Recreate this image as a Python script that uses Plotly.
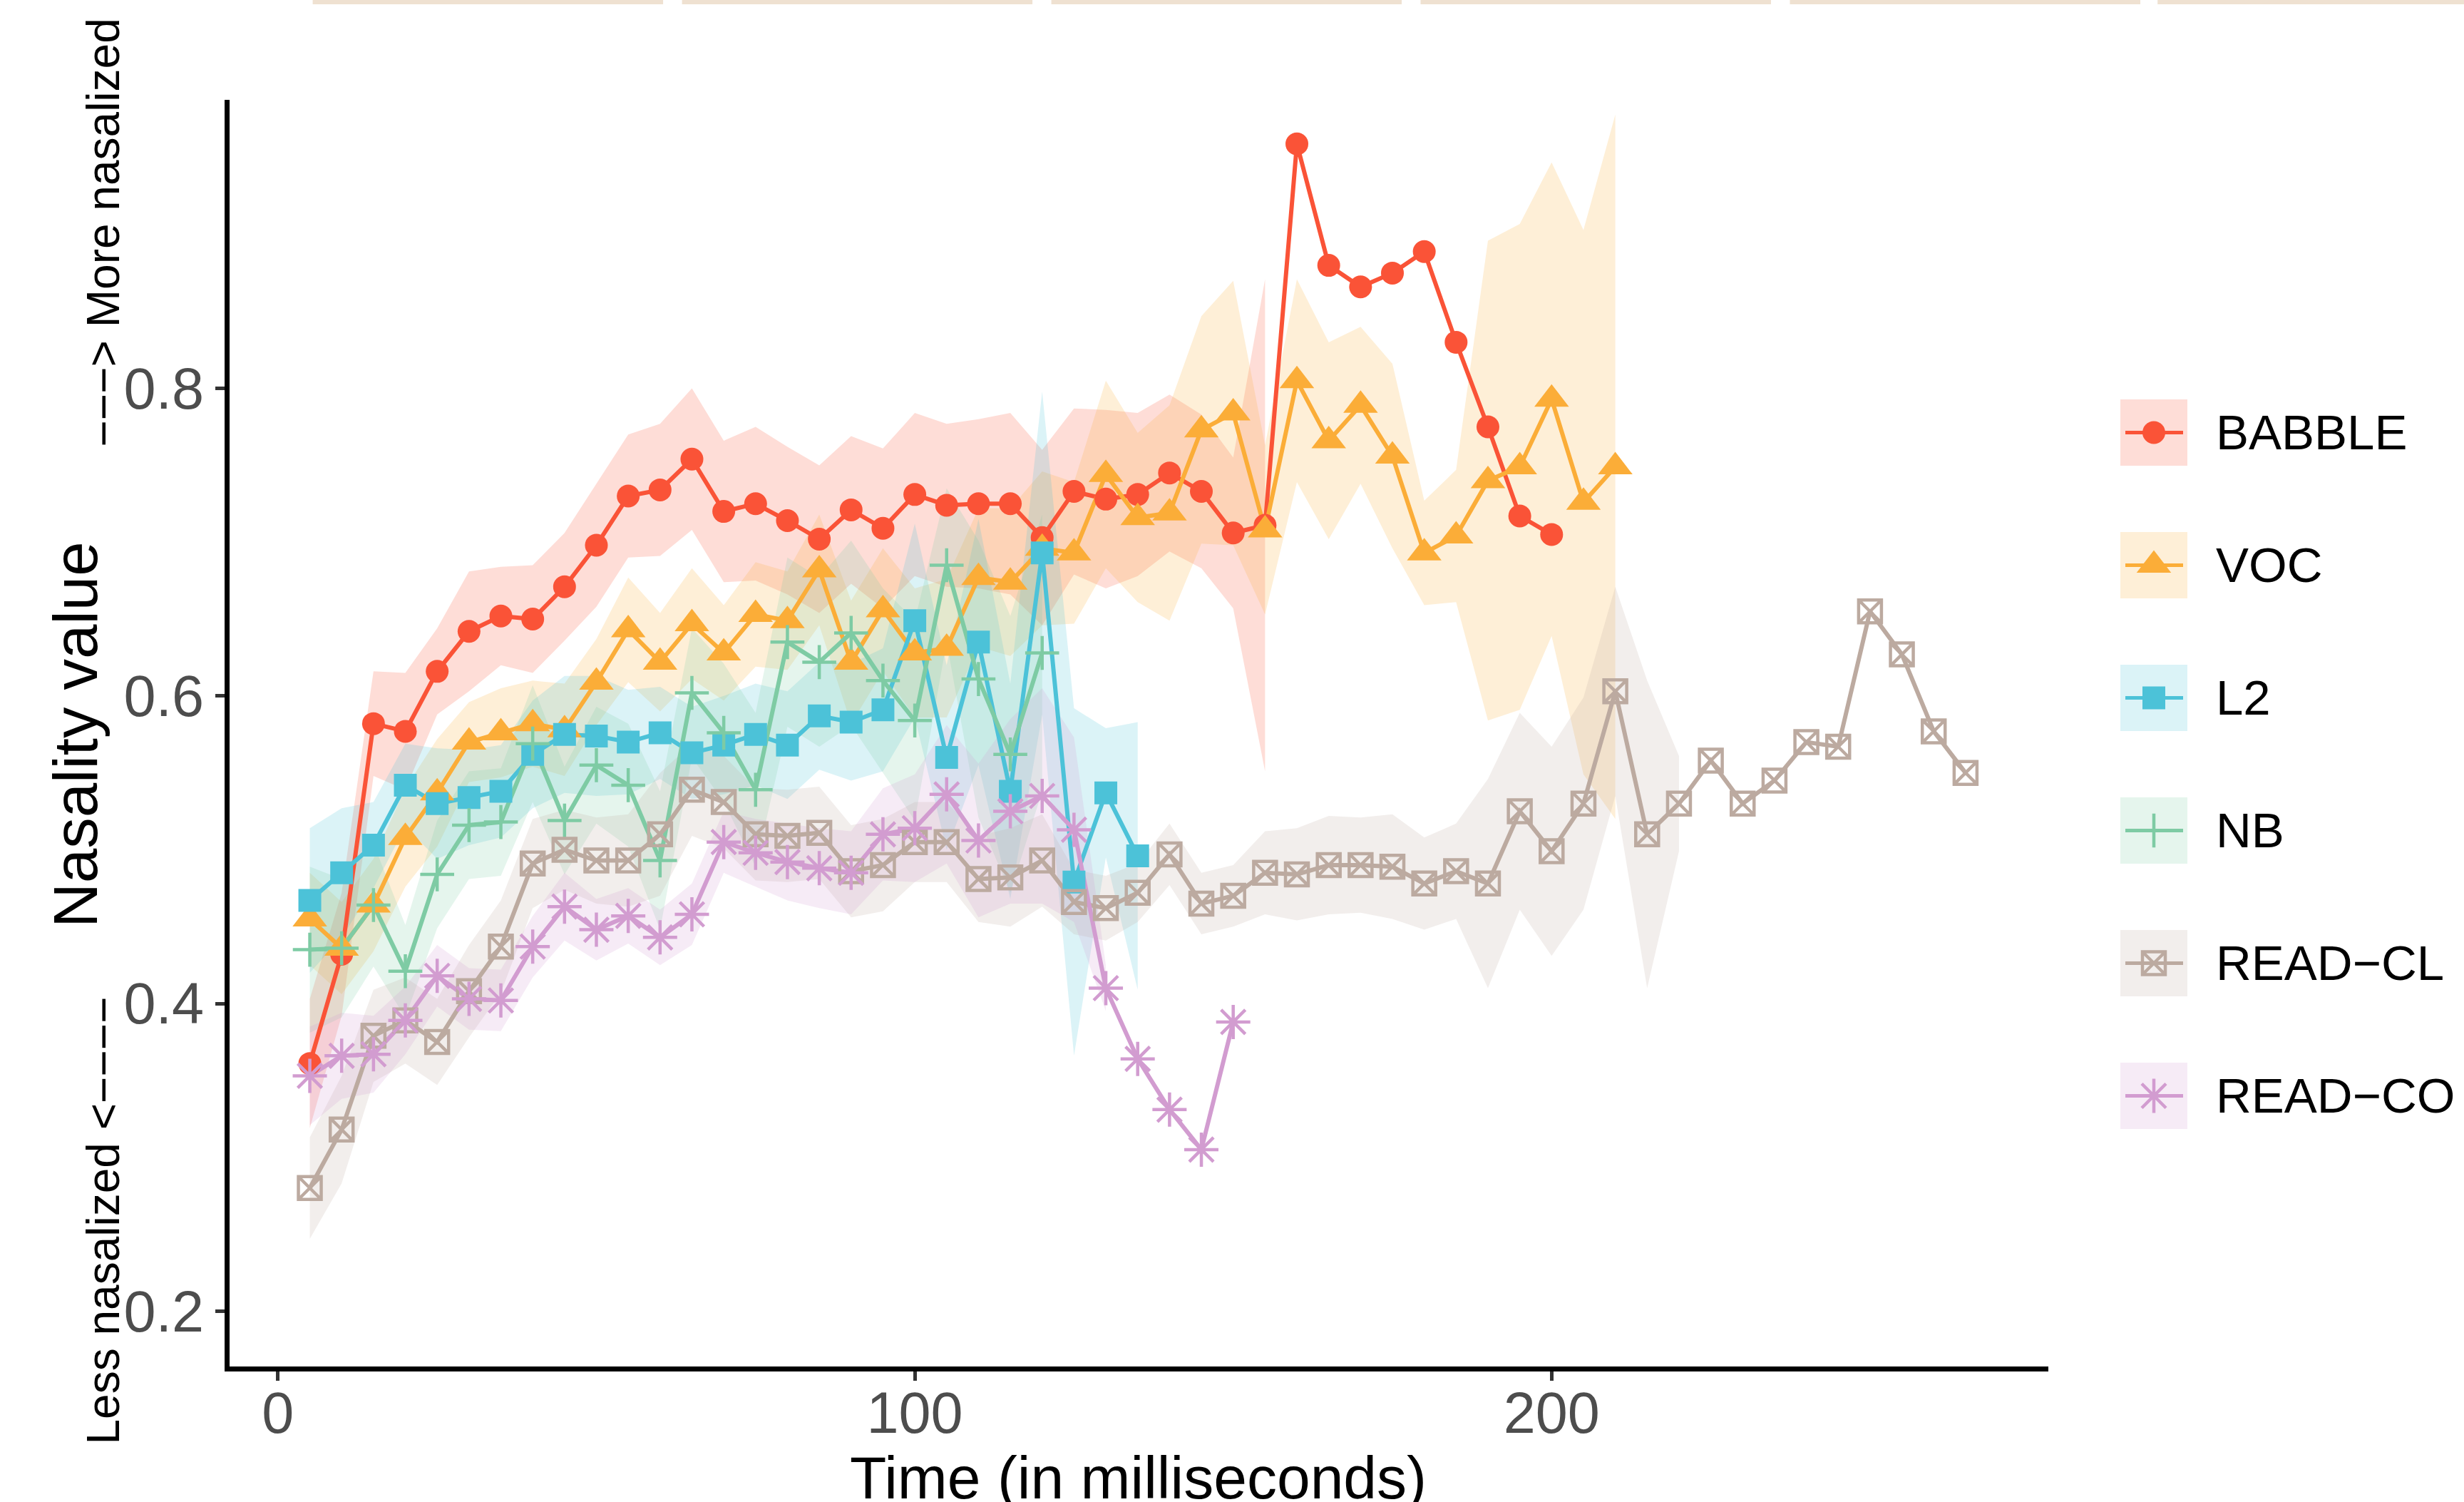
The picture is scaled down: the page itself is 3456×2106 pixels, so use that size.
import plotly.graph_objects as go

# ---------------- data ----------------
time_ms = [5, 10, 15, 20, 25, 30, 35, 40, 45, 50, 55, 60, 65, 70, 75, 80, 85, 90, 95, 100,
           105, 110, 115, 120, 125, 130, 135, 140, 145, 150, 155, 160, 165, 170, 175, 180,
           185, 190, 195, 200, 205, 210, 215, 220, 225, 230, 235, 240, 245, 250, 255, 260, 265]

series_names = ["BABBLE", "VOC", "L2", "NB", "READ-CL", "READ-CO"]
series_colors = ["#FA5337", "#FBAD38", "#4CC2D8", "#7ECBA4", "#BCAAA0", "#D29CD0"]

babble_mean = [0.361, 0.432, 0.582, 0.577, 0.616, 0.642, 0.652, 0.650, 0.671, 0.698,
               0.730, 0.734, 0.754, 0.720, 0.725, 0.714, 0.702, 0.721, 0.709, 0.731,
               0.724, 0.725, 0.725, 0.703, 0.733, 0.728, 0.731, 0.745, 0.733, 0.706,
               0.711, 0.959, 0.880, 0.866, 0.875, 0.889, 0.830, 0.775, 0.717, 0.705]
babble_se = [0.042, 0.040, 0.034, 0.038, 0.028, 0.039, 0.032, 0.035, 0.035, 0.040,
             0.040, 0.043, 0.046, 0.046, 0.050, 0.048, 0.048, 0.048, 0.052, 0.053,
             0.053, 0.055, 0.059, 0.057, 0.054, 0.058, 0.053, 0.051, 0.050, 0.049,
             0.160, None, None, None, None, None, None, None, None, None]

voc_mean = [0.455, 0.436, 0.464, 0.508, 0.537, 0.570, 0.576, 0.582, 0.578, 0.609,
            0.643, 0.622, 0.647, 0.628, 0.653, 0.649, 0.682, 0.622, 0.656, 0.628,
            0.631, 0.677, 0.674, 0.696, 0.693, 0.744, 0.716, 0.719, 0.773, 0.784,
            0.708, 0.805, 0.766, 0.789, 0.756, 0.693, 0.704, 0.740, 0.749, 0.793,
            0.726, 0.749]
voc_se = [0.030, 0.030, 0.030, 0.032, 0.035, 0.026, 0.029, 0.028, 0.030, 0.028,
          0.034, 0.032, 0.036, 0.031, 0.034, 0.032, 0.036, 0.040, 0.040, 0.042,
          0.045, 0.045, 0.048, 0.050, 0.046, 0.061, 0.055, 0.070, 0.074, 0.086,
          0.055, 0.066, 0.064, 0.051, 0.060, 0.034, 0.043, 0.156, 0.158, 0.154,
          0.177, 0.229]

l2_mean = [0.467, 0.485, 0.503, 0.542, 0.530, 0.534, 0.538, 0.562, 0.575, 0.574,
           0.570, 0.576, 0.563, 0.568, 0.575, 0.568, 0.587, 0.583, 0.591, 0.649,
           0.560, 0.635, 0.538, 0.693, 0.479, 0.537, 0.496]
l2_se = [0.047, 0.042, 0.028, 0.027, 0.036, 0.031, 0.030, 0.035, 0.038, 0.039,
         0.034, 0.030, 0.030, 0.032, 0.033, 0.035, 0.035, 0.038, 0.040, 0.063,
         0.060, 0.080, 0.070, 0.105, 0.113, 0.042, 0.087]

nb_mean = [0.435, 0.436, 0.464, 0.421, 0.484, 0.516, 0.518, 0.569, 0.519, 0.555,
           0.542, 0.493, 0.602, 0.576, 0.539, 0.635, 0.622, 0.641, 0.610, 0.584,
           0.685, 0.611, 0.562, 0.628]
nb_se = [0.054, 0.045, 0.040, 0.030, 0.035, 0.035, 0.035, 0.038, 0.035, 0.038,
         0.040, 0.045, 0.042, 0.045, 0.050, 0.055, 0.055, 0.060, 0.060, 0.065,
         0.050, 0.090, 0.090, 0.090]

readcl_mean = [0.280, 0.318, 0.379, 0.389, 0.375, 0.408, 0.437, 0.491, 0.500, 0.493,
               0.493, 0.510, 0.539, 0.531, 0.510, 0.509, 0.511, 0.486, 0.490, 0.505,
               0.505, 0.481, 0.482, 0.493, 0.466, 0.462, 0.472, 0.497, 0.465, 0.470,
               0.485, 0.484, 0.490, 0.490, 0.489, 0.478, 0.486, 0.478, 0.525, 0.499,
               0.530, 0.603, 0.510, 0.530, 0.558, 0.530, 0.545, 0.570, 0.567, 0.655,
               0.627, 0.577, 0.550]
readcl_se = [0.033, 0.035, 0.030, 0.028, 0.028, 0.030, 0.030, 0.029, 0.026, 0.028,
             0.030, 0.040, 0.030, 0.030, 0.030, 0.030, 0.030, 0.030, 0.030, 0.026,
             0.026, 0.028, 0.032, 0.030, 0.021, 0.021, 0.019, 0.020, 0.020, 0.020,
             0.027, 0.030, 0.032, 0.031, 0.034, 0.030, 0.031, 0.068, 0.064, 0.068,
             0.069, 0.068, 0.100, 0.031, None, None, None, None, None, None,
             None, None, None]

readco_mean = [0.353, 0.366, 0.367, 0.389, 0.418, 0.403, 0.402, 0.437, 0.463, 0.448,
               0.457, 0.443, 0.458, 0.505, 0.498, 0.492, 0.488, 0.485, 0.510, 0.514,
               0.536, 0.506, 0.525, 0.535, 0.513, 0.410, 0.364, 0.331, 0.305, 0.388]
readco_se = [0.032, 0.028, 0.025, 0.022, 0.020, 0.020, 0.020, 0.020, 0.022, 0.020,
             0.018, 0.018, 0.020, 0.020, 0.022, 0.025, 0.026, 0.027, 0.030, 0.035,
             0.045, 0.050, 0.060, 0.070, 0.060, 0.015, None, None, None, None]

x_ticks = [0, 100, 200]
y_ticks = [0.2, 0.4, 0.6, 0.8]

series_means = [babble_mean, voc_mean, l2_mean, nb_mean, readcl_mean, readco_mean]
series_ses = [babble_se, voc_se, l2_se, nb_se, readcl_se, readco_se]

# ---------------- styling ----------------
W, H = 3456, 2106
FONT = "Liberation Sans, Arial, Helvetica, sans-serif"
symbols = ["circle", "triangle-up", "square", "cross-thin-open", "square-x-open", "asterisk-open"]
sizes = [32, 42, 32, 34, 32, 40]
open_sym = [False, False, False, True, True, True]


def rgba(hex_color, a):
    h = hex_color.lstrip("#")
    r, g, b = int(h[0:2], 16), int(h[2:4], 16), int(h[4:6], 16)
    return f"rgba({r},{g},{b},{a})"


def px_x(px):
    return px / W


def px_y(py):
    return 1 - py / H


def marker_style(i, color):
    if open_sym[i]:
        return dict(symbol=symbols[i], size=sizes[i], color=color,
                    line=dict(color=color, width=4.5))
    return dict(symbol=symbols[i], size=sizes[i], color=color, line=dict(width=0))


fig = go.Figure()

# ribbons
for i, name in enumerate(series_names):
    m, s = series_means[i], series_ses[i]
    t = time_ms[:len(m)]
    tv = [t[k] for k in range(len(m)) if s[k] is not None]
    up = [m[k] + s[k] for k in range(len(m)) if s[k] is not None]
    lo = [m[k] - s[k] for k in range(len(m)) if s[k] is not None]
    fig.add_trace(go.Scatter(x=tv + tv[::-1], y=up + lo[::-1], fill="toself",
                             fillcolor=rgba(series_colors[i], 0.2),
                             line=dict(width=0), mode="lines", hoverinfo="skip",
                             showlegend=False))
# lines
for i, name in enumerate(series_names):
    m = series_means[i]
    fig.add_trace(go.Scatter(x=time_ms[:len(m)], y=m, mode="lines",
                             line=dict(color=series_colors[i], width=6),
                             showlegend=False, name=name))
# points
for i, name in enumerate(series_names):
    m = series_means[i]
    fig.add_trace(go.Scatter(x=time_ms[:len(m)], y=m, mode="markers",
                             marker=marker_style(i, series_colors[i]),
                             showlegend=False, name=name))

# ---------------- custom legend (ggplot-style keys) ----------------
LEG_X0, LEG_X1 = 2940, 3456
LEG_Y0, LEG_Y1 = 500, 1640
key_left, key_right = 2974, 3068
key_half = 46.5
key_first_center, key_step = 606.5, 186
shapes = []
annotations = []
for i, name in enumerate(series_names):
    cy = key_first_center + key_step * i
    cx = (key_left + key_right) / 2
    shapes.append(dict(type="rect", xref="x2", yref="y2", x0=key_left, x1=key_right,
                       y0=cy - key_half, y1=cy + key_half, layer="below",
                       fillcolor=rgba(series_colors[i], 0.2), line=dict(width=0)))
    fig.add_trace(go.Scatter(x=[key_left + 7, key_right - 6], y=[cy, cy], mode="lines",
                             line=dict(color=series_colors[i], width=5),
                             xaxis="x2", yaxis="y2", showlegend=False, hoverinfo="skip"))
    fig.add_trace(go.Scatter(x=[cx], y=[cy], mode="markers",
                             marker=marker_style(i, series_colors[i]),
                             xaxis="x2", yaxis="y2", showlegend=False, hoverinfo="skip"))
    annotations.append(dict(xref="x2", yref="y2", x=3106, y=cy, xanchor="left",
                            yanchor="middle", showarrow=False,
                            text=name.replace("-", "\u2212"),
                            font=dict(family=FONT, size=69, color="black")))

# decorative strips at top (cropped facet strips in the original)
strip_edges = [(438.6, 930.1), (956.6, 1448.1), (1474.6, 1966.0),
               (1992.5, 2484.0), (2510.5, 3002.0), (3026.2, 3456.0)]
for a, b in strip_edges:
    shapes.append(dict(type="rect", xref="paper", yref="paper", x0=px_x(a), x1=px_x(b),
                       y0=px_y(6), y1=1.0, fillcolor="#EFE1D1", line=dict(width=0)))

# titles
annotations.append(dict(xref="paper", yref="paper", x=px_x(1596), y=px_y(2071.5),
                        xanchor="center", yanchor="middle", showarrow=False,
                        text="Time (in milliseconds)",
                        font=dict(family=FONT, size=84, color="black")))
annotations.append(dict(xref="paper", yref="paper", x=px_x(105), y=px_y(1030),
                        xanchor="center", yanchor="middle", showarrow=False, textangle=-90,
                        text="Nasality value",
                        font=dict(family=FONT, size=87, color="black")))
annotations.append(dict(xref="paper", yref="paper", x=px_x(144), y=px_y(24),
                        xanchor="center", yanchor="top", showarrow=False, textangle=-90,
                        text="\u2212\u2212\u2212> More nasalized",
                        font=dict(family=FONT, size=64, color="black")))
annotations.append(dict(xref="paper", yref="paper", x=px_x(144.5), y=px_y(2028),
                        xanchor="center", yanchor="bottom", showarrow=False, textangle=-90,
                        text="Less nasalized <\u2212\u2212\u2212\u2212",
                        font=dict(family=FONT, size=64, color="black")))

axis_common = dict(showline=True, linecolor="black", linewidth=6.5, ticks="outside",
                   ticklen=13, tickwidth=5, tickcolor="#333333", showgrid=False,
                   zeroline=False, tickfont=dict(family=FONT, size=81, color="#4D4D4D"))

fig.update_layout(
    width=W, height=H, margin=dict(l=0, r=0, t=0, b=0),
    paper_bgcolor="white", plot_bgcolor="white", showlegend=False,
    template="none",
    xaxis=dict(domain=[px_x(322), px_x(2873)], range=[-7.6, 278.0],
               tickvals=x_ticks, ticktext=[str(v) for v in x_ticks], anchor="y",
               ticklabelstandoff=-24, **axis_common),
    yaxis=dict(domain=[px_y(1916), px_y(140)], range=[0.16395, 0.98765],
               tickvals=y_ticks, ticktext=[f"{v:.1f}" for v in y_ticks], anchor="x",
               **axis_common),
    xaxis2=dict(domain=[px_x(LEG_X0), px_x(LEG_X1)], range=[LEG_X0, LEG_X1],
                visible=False, anchor="y2"),
    yaxis2=dict(domain=[px_y(LEG_Y1), px_y(LEG_Y0)], range=[LEG_Y1, LEG_Y0],
                visible=False, anchor="x2"),
    shapes=shapes, annotations=annotations,
)

fig.write_html("out.html", config={"displayModeBar": False},
               post_script="document.body.style.margin='0';document.body.style.overflow='hidden';")
